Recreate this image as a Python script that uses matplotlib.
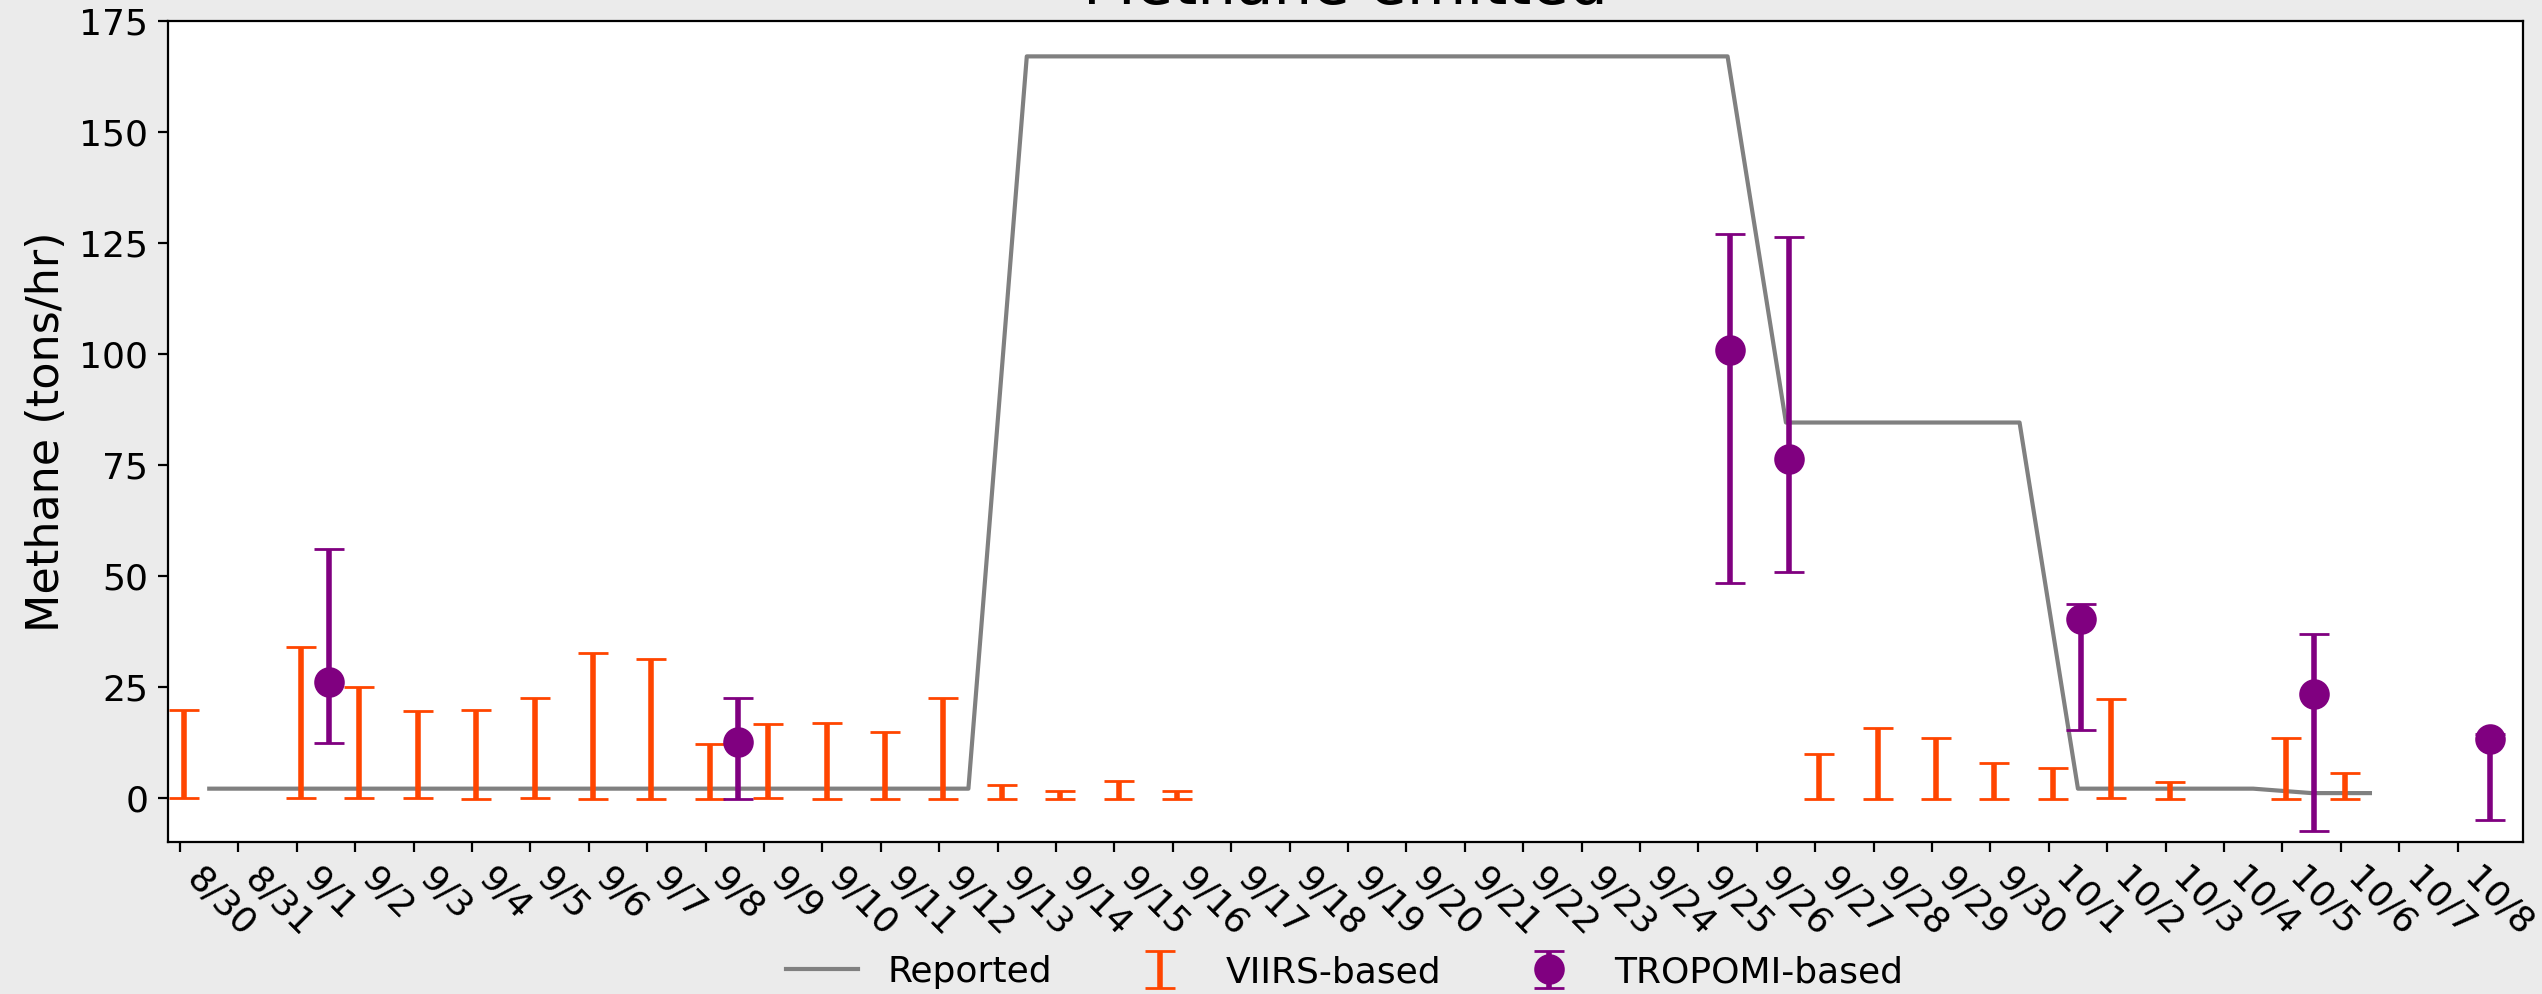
import numpy as np
import matplotlib
matplotlib.use("Agg")
import matplotlib.pyplot as plt

# x axis: days since 8/30 00:00
tick_labels = ["8/30", "8/31", "9/1", "9/2", "9/3", "9/4", "9/5", "9/6", "9/7", "9/8",
               "9/9", "9/10", "9/11", "9/12", "9/13", "9/14", "9/15", "9/16", "9/17", "9/18",
               "9/19", "9/20", "9/21", "9/22", "9/23", "9/24", "9/25", "9/26", "9/27", "9/28",
               "9/29", "9/30", "10/1", "10/2", "10/3", "10/4", "10/5", "10/6", "10/7", "10/8"]

# reported emission, one value per day (noon), 8/30 .. 10/6
reported = [2, 2, 2, 2, 2, 2, 2, 2, 2, 2, 2, 2, 2, 2,
            167, 167, 167, 167, 167, 167, 167, 167, 167, 167, 167, 167, 167,
            84.5, 84.5, 84.5, 84.5, 84.5,
            2, 2, 2, 2,
            1, 1]

# VIIRS-based ranges (night overpass)
viirs_day = [0, 2, 3, 4, 5, 6, 7, 8, 9, 10, 11, 12, 13, 14, 15, 16, 17,
             28, 29, 30, 31, 32, 33, 34, 36, 37]
viirs_low = [0, 0, 0, 0, -0.3, 0, -0.3, -0.3, -0.3, 0, -0.3, -0.3, -0.3, -0.3, -0.3, -0.3, -0.3,
             -0.3, -0.3, -0.3, -0.3, -0.3, 0, -0.3, -0.3, -0.3]
viirs_high = [19.7, 34.0, 24.8, 19.5, 19.7, 22.4, 32.5, 31.2, 12.0, 16.5, 16.9, 14.8, 22.4,
              2.8, 1.5, 3.7, 1.5,
              9.8, 15.6, 13.4, 7.7, 6.7, 22.1, 3.5, 13.4, 5.5]
viirs_hour = 1.7

# TROPOMI-based estimates (midday overpass)
tropomi_day = [2, 9, 26, 27, 32, 36, 39]
tropomi_val = [26.0, 12.6, 100.9, 76.2, 40.3, 23.4, 13.3]
tropomi_low = [12.3, -0.3, 48.4, 50.9, 15.3, -7.5, -5.0]
tropomi_high = [56.1, 22.4, 126.9, 126.2, 43.6, 36.9, 14.4]
tropomi_hour = 13.2

plt.rcParams['font.family'] = ['DejaVu Sans']

fig = plt.figure(figsize=(12.71, 4.97), dpi=200, facecolor='#ebebeb')
ax = fig.add_axes([0.066, 0.153, 0.9265, 0.826])
ax.set_facecolor('white')

rep_x = np.arange(len(reported)) + 0.5
line, = ax.plot(rep_x, reported, color='grey', lw=1.5, label='Reported')

vx = np.array(viirs_day) + viirs_hour / 24
vlo = np.array(viirs_low)
vhi = np.array(viirs_high)
viirs = ax.errorbar(vx, (vlo + vhi) / 2, yerr=(vhi - vlo) / 2, fmt='none',
                    ecolor='orangered', elinewidth=2, capsize=5.5, label='VIIRS-based')

tx = np.array(tropomi_day) + tropomi_hour / 24
tv = np.array(tropomi_val)
terr = [tv - np.array(tropomi_low), np.array(tropomi_high) - tv]
tropomi = ax.errorbar(tx, tv, yerr=terr, fmt='o', color='purple', ms=10,
                      elinewidth=2, capsize=5.5, label='TROPOMI-based')

ax.set_xlim(-0.21, 40.12)
ax.set_ylim(-10, 175)
ax.set_xticks(np.arange(len(tick_labels)))
ax.set_xticklabels(tick_labels, rotation=-45, ha='left', fontsize=13)
ax.tick_params(axis='y', labelsize=13)
ax.set_ylabel('Methane (tons/hr)', fontsize=16)
ax.set_title('Methane emitted', fontsize=22)

# legend centred under the axes, below the tick labels
fig.legend(handles=[line, viirs, tropomi], loc='center', bbox_to_anchor=(0.529, 0.022),
           ncol=3, frameon=False, fontsize=13)

fig.savefig('out.png', dpi=200, facecolor=fig.get_facecolor())
